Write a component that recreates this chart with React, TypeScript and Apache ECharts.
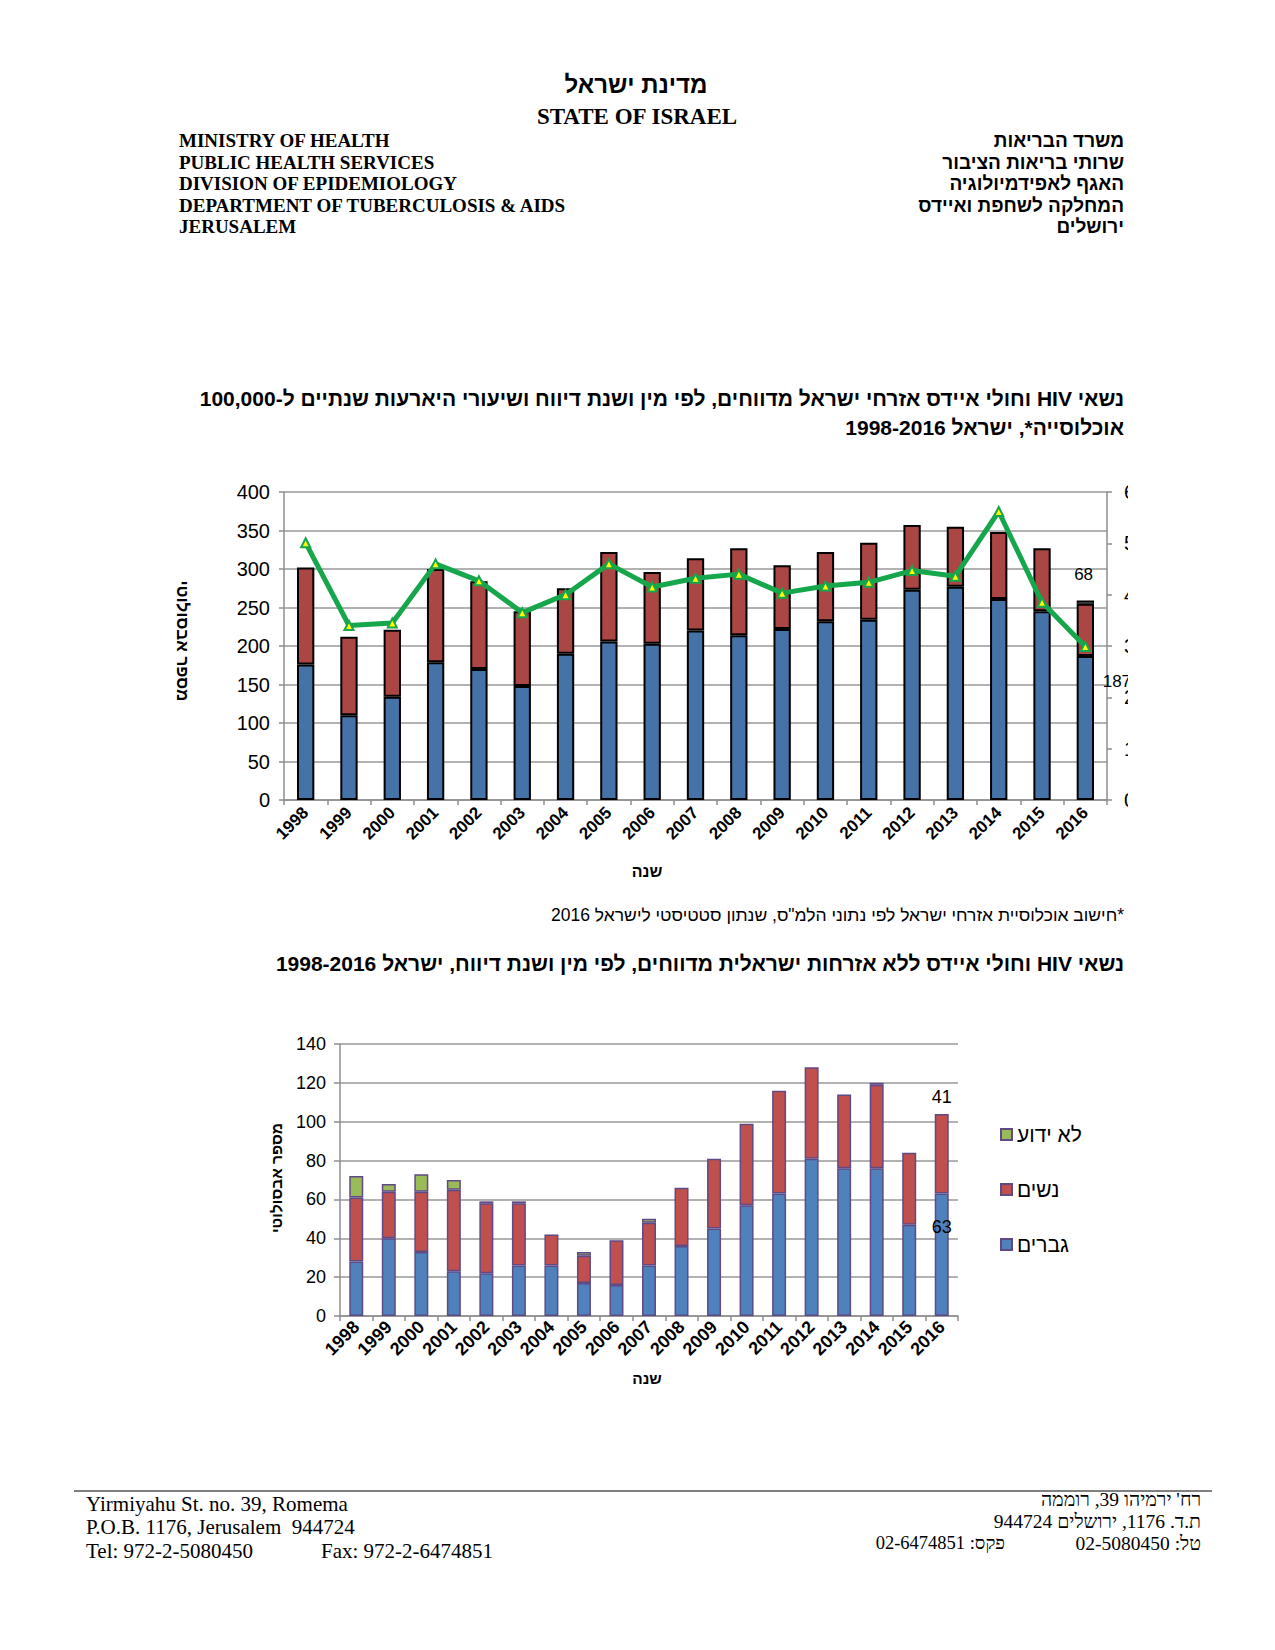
import React, { useEffect, useRef } from "react";
import * as echarts from "echarts";

const years = ["1998","1999","2000","2001","2002","2003","2004","2005","2006","2007","2008","2009","2010","2011","2012","2013","2014","2015","2016"];

// Chart 1: Israeli citizens
const menCitizens = [176,110,134,179,170,148,190,206,203,220,214,222,232,234,273,277,261,245,187];
const womenCitizens = [126,102,87,121,114,97,85,116,93,94,113,83,90,100,84,78,87,82,68];
const unknownCitizens = [null,null,null,null,null,null,null,null,null,null,null,null,null,null,null,null,null,null,4];
const rateCitizens = [5.01,3.40,3.45,4.60,4.27,3.65,4.00,4.60,4.15,4.32,4.40,4.03,4.17,4.24,4.47,4.36,5.62,3.85,2.99];

// Chart 2: non-citizens
const menNon = [28,40,33,23,22,26,26,17,16,26,36,45,57,63,81,76,76,47,63];
const womenNon = [33,24,31,42,36,32,16,14,23,22,30,36,42,53,47,38,43,37,41];
const unknownNon = [11,4,9,5,1,1,null,2,null,2,null,null,null,null,null,null,1,null,null];

const leftTicks1 = { min: 0, max: 400, interval: 50 };
const rightTicks1 = { min: 0, max: 6, interval: 1 };
const ticks2 = { min: 0, max: 140, interval: 20 };

const SANS = '"Liberation Sans", Arial, sans-serif';
const SERIF = '"Liberation Serif", "Times New Roman", serif';
const rtl = (s: string) => "\u202B" + s + "\u202C";

const GRAY = "#8e8e8e";

function txt(x: number, y: number, text: string, opts: any = {}) {
  return {
    type: "text",
    x,
    y,
    rotation: opts.rotation || 0,
    z: 50,
    style: {
      text,
      fill: "#000",
      fontSize: opts.size || 16,
      fontWeight: opts.bold ? "bold" : "normal",
      fontFamily: opts.family || SANS,
      align: opts.align || "left",
      verticalAlign: "middle",
    },
  };
}

export default function App() {
  const ref = useRef<HTMLDivElement>(null);
  useEffect(() => {
    if (!ref.current) return;
    const chart = echarts.init(ref.current, null, { renderer: "svg" });
    const last = years.length - 1;

    const axisLineStyle = { color: GRAY, width: 1.5 };
    const catAxis = (gridIndex: number, fontSize: number, margin: number) => ({
      type: "category",
      gridIndex,
      data: years,
      axisLine: { show: true, lineStyle: axisLineStyle },
      axisTick: { show: true, length: 5, lineStyle: axisLineStyle },
      axisLabel: { rotate: 45, interval: 0, fontSize, fontWeight: "bold", color: "#000", fontFamily: SANS, margin },
    });

    const option: any = {
      animation: false,
      backgroundColor: "#fff",
      grid: [
        { left: 284, top: 492, width: 823, height: 308 },
        { left: 340, top: 1044, width: 618, height: 272 },
      ],
      xAxis: [catAxis(0, 17, 10), catAxis(1, 18, 8)],
      yAxis: [
        {
          type: "value", gridIndex: 0, ...leftTicks1,
          axisLine: { show: true, lineStyle: axisLineStyle },
          axisTick: { show: true, length: 5, lineStyle: axisLineStyle },
          splitLine: { show: true, lineStyle: { color: "#999", width: 1.5 } },
          axisLabel: { fontSize: 20, color: "#000", fontFamily: SANS, margin: 14 },
        },
        {
          type: "value", gridIndex: 0, position: "right", ...rightTicks1,
          axisLine: { show: true, lineStyle: axisLineStyle },
          axisTick: { show: true, length: 5, lineStyle: axisLineStyle },
          splitLine: { show: false },
          axisLabel: { fontSize: 20, color: "#000", fontFamily: SANS, margin: 17 },
        },
        {
          type: "value", gridIndex: 1, ...ticks2,
          axisLine: { show: true, lineStyle: axisLineStyle },
          axisTick: { show: true, length: 6, lineStyle: axisLineStyle },
          splitLine: { show: true, lineStyle: { color: "#999", width: 1.5 } },
          axisLabel: { fontSize: 18, color: "#000", fontFamily: SANS, margin: 14 },
        },
      ],
      legend: {
        data: ["לא ידוע", "נשים", "גברים"],
        orient: "vertical",
        left: 995,
        top: 1119,
        itemWidth: 11,
        itemHeight: 11,
        itemGap: 34,
        icon: "rect",
        textStyle: { fontSize: 21, color: "#000", fontFamily: SANS },
      },
      series: [
        {
          name: "גברים אזרחי ישראל", type: "bar", stack: "c", xAxisIndex: 0, yAxisIndex: 0, barWidth: "40%",
          itemStyle: { color: "#4572A7", borderColor: "#000", borderWidth: 2 },
          data: menCitizens.map((v, i) => i === last ? {
            value: v,
            label: { show: true, position: [26, 25], align: "left", verticalAlign: "middle", fontSize: 17, color: "#000", fontFamily: SANS, formatter: "{c}" },
          } : v),
        },
        {
          name: "נשים אזרחיות ישראל", type: "bar", stack: "c", xAxisIndex: 0, yAxisIndex: 0,
          itemStyle: { color: "#AA4643", borderColor: "#000", borderWidth: 2 },
          data: womenCitizens.map((v, i) => i === last ? {
            value: v,
            label: { show: true, position: ["40%", -29], align: "center", verticalAlign: "middle", fontSize: 17, color: "#000", fontFamily: SANS, formatter: "{c}" },
          } : v),
        },
        {
          name: "לא ידוע אזרחי ישראל", type: "bar", stack: "c", xAxisIndex: 0, yAxisIndex: 0,
          itemStyle: { color: "#d9d9d9", borderColor: "#000", borderWidth: 1.5 },
          data: unknownCitizens,
        },
        {
          name: "שיעור היארעות", type: "line", xAxisIndex: 0, yAxisIndex: 1, z: 5,
          symbol: "triangle", symbolSize: 9,
          lineStyle: { color: "#16a64b", width: 5 },
          itemStyle: { color: "#ffff00", borderColor: "#16a64b", borderWidth: 2 },
          data: rateCitizens,
        },
        {
          name: "גברים", type: "bar", stack: "n", xAxisIndex: 1, yAxisIndex: 2, barWidth: "43%",
          itemStyle: { color: "#4F81BD", borderColor: "#5f4a86", borderWidth: 1.5 },
          data: menNon.map((v, i) => i === last ? {
            value: v,
            label: { show: true, position: ["50%", 33], align: "center", verticalAlign: "middle", fontSize: 18, color: "#000", fontFamily: SANS, formatter: "{c}" },
          } : v),
        },
        {
          name: "נשים", type: "bar", stack: "n", xAxisIndex: 1, yAxisIndex: 2,
          itemStyle: { color: "#C0504D", borderColor: "#5f4a86", borderWidth: 1.5 },
          data: womenNon.map((v, i) => i === last ? {
            value: v,
            label: { show: true, position: ["50%", -17], align: "center", verticalAlign: "middle", fontSize: 18, color: "#000", fontFamily: SANS, formatter: "{c}" },
          } : v),
        },
        {
          name: "לא ידוע", type: "bar", stack: "n", xAxisIndex: 1, yAxisIndex: 2,
          itemStyle: { color: "#9BBB59", borderColor: "#5f4a86", borderWidth: 1.5 },
          data: unknownNon,
        },
      ],
      graphic: [
        // clip of right axis labels
        { type: "rect", z: 100, shape: { x: 1128, y: 455, width: 80, height: 360 }, style: { fill: "#fff" } },
        // header
        txt(636, 84, rtl("מדינת ישראל"), { size: 24, bold: true, align: "center" }),
        txt(637, 116, "STATE OF ISRAEL", { size: 23, bold: true, family: SERIF, align: "center" }),
        txt(179, 140, "MINISTRY OF HEALTH", { size: 19, bold: true, family: SERIF }),
        txt(179, 162, "PUBLIC HEALTH SERVICES", { size: 19, bold: true, family: SERIF }),
        txt(179, 183, "DIVISION OF EPIDEMIOLOGY", { size: 19, bold: true, family: SERIF }),
        txt(179, 205, "DEPARTMENT OF TUBERCULOSIS & AIDS", { size: 19, bold: true, family: SERIF }),
        txt(179, 226, "JERUSALEM", { size: 19, bold: true, family: SERIF }),
        txt(1124, 140, rtl("משרד הבריאות"), { size: 19, bold: true, align: "right" }),
        txt(1124, 162, rtl("שרותי בריאות הציבור"), { size: 19, bold: true, align: "right" }),
        txt(1124, 183, rtl("האגף לאפידמיולוגיה"), { size: 19, bold: true, align: "right" }),
        txt(1124, 205, rtl("המחלקה לשחפת ואיידס"), { size: 19, bold: true, align: "right" }),
        txt(1124, 226, rtl("ירושלים"), { size: 19, bold: true, align: "right" }),
        // chart 1 titles
        txt(1124, 398, rtl("נשאי HIV וחולי איידס אזרחי ישראל מדווחים, לפי מין ושנת דיווח ושיעורי היארעות שנתיים ל-100,000"), { size: 21, bold: true, align: "right" }),
        txt(1124, 427, rtl("אוכלוסייה*, ישראל 1998-2016"), { size: 21, bold: true, align: "right" }),
        txt(182, 641, rtl("מספר אבסולוטי"), { size: 17, bold: true, align: "center", rotation: -Math.PI / 2 }),
        txt(647, 871, rtl("שנה"), { size: 16, bold: true, align: "center" }),
        txt(1124, 915, rtl("*חישוב אוכלוסיית אזרחי ישראל לפי נתוני הלמ\"ס, שנתון סטטיסטי לישראל 2016"), { size: 17.5, align: "right" }),
        // chart 2 titles
        txt(1124, 963, rtl("נשאי HIV וחולי איידס ללא אזרחות ישראלית מדווחים, לפי מין ושנת דיווח, ישראל 1998-2016"), { size: 21, bold: true, align: "right" }),
        txt(276, 1178, rtl("מספר אבסולוטי"), { size: 15.5, bold: true, align: "center", rotation: Math.PI / 2 }),
        txt(647, 1378, rtl("שנה"), { size: 15.5, bold: true, align: "center" }),
        // footer
        { type: "line", z: 50, shape: { x1: 74, y1: 1491, x2: 1212, y2: 1491 }, style: { stroke: "#000", lineWidth: 1 } },
        txt(86, 1504, "Yirmiyahu St. no. 39, Romema", { size: 21, family: SERIF }),
        txt(86, 1527, "P.O.B. 1176, Jerusalem  944724", { size: 21, family: SERIF }),
        txt(86, 1551, "Tel: 972-2-5080450", { size: 21, family: SERIF }),
        txt(321, 1551, "Fax: 972-2-6474851", { size: 21, family: SERIF }),
        txt(1201, 1499, rtl("רח' ירמיהו 39, רוממה"), { size: 19.5, family: SERIF, align: "right" }),
        txt(1201, 1521, rtl("ת.ד. 1176, ירושלים 944724"), { size: 19.5, family: SERIF, align: "right" }),
        txt(1201, 1543, rtl("טל: 02-5080450"), { size: 19.5, family: SERIF, align: "right" }),
        txt(1005, 1543, rtl("פקס: 02-6474851"), { size: 18.5, family: SERIF, align: "right" }),
      ],
    };
    chart.setOption(option);
    return () => chart.dispose();
  }, []);
  return (
    <div
      ref={ref}
      style={{ position: "absolute", left: 0, top: 0, width: 1275, height: 1650, background: "#fff" }}
    />
  );
}
